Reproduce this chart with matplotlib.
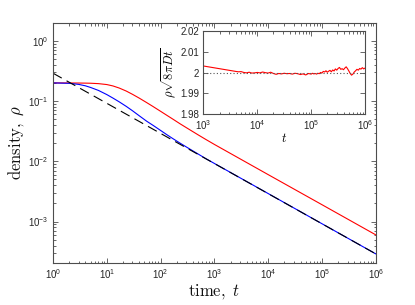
import numpy as np
import matplotlib
matplotlib.use("Agg")
import matplotlib.pyplot as plt
from matplotlib.ticker import LogLocator, FixedLocator, FixedFormatter, NullFormatter

# ---------------- data ----------------
t_main = [1, 2, 3, 4, 5, 7, 10, 13, 17, 23, 30, 40, 55, 72, 100, 130, 170,
          230, 300, 500, 700, 1e3, 1e4, 1e5, 1e6]
rho_red = [0.200, 0.1996, 0.199, 0.1983, 0.1975, 0.1945, 0.1878, 0.1781,
           0.1644, 0.1464, 0.1293, 0.1119, 0.0943, 0.0813, 0.0675, 0.0581,
           0.0499, 0.0419, 0.0362, 0.0274, 0.0229, 0.01903, 0.0060, 0.0019,
           0.0006]
rho_blue = [0.200, 0.197, 0.189, 0.179, 0.168, 0.150, 0.128, 0.112, 0.097,
            0.0815, 0.069, 0.0570, 0.0463, 0.0396, 0.0325, 0.0277, 0.0237,
            0.0200, 0.0173, 0.01317, 0.0110, 0.00920, 0.00291, 0.000918,
            0.00029]
t_theory = [1, 1e6]
rho_theory = [0.29, 0.00029]

inset_log10_t = [3.0, 3.6, 3.65, 3.7, 3.75, 3.8, 3.85, 3.9, 3.95, 4.0, 4.05,
                 4.1, 4.15, 4.2, 4.25, 4.3, 4.35, 4.4, 4.45, 4.5, 4.55, 4.6,
                 4.65, 4.7, 4.75, 4.8, 4.85, 4.9, 4.95, 5.0, 5.025, 5.05,
                 5.075, 5.1, 5.125, 5.15, 5.175, 5.2, 5.225, 5.25, 5.275, 5.3,
                 5.325, 5.35, 5.375, 5.4, 5.425, 5.45, 5.475, 5.5, 5.525,
                 5.55, 5.575, 5.6, 5.625, 5.65, 5.675, 5.7, 5.725, 5.75,
                 5.775, 5.8, 5.825, 5.85, 5.875, 5.9, 5.925, 5.95, 5.975, 6.0]
inset_ratio = [2.0032, 2.0006, 2.0004, 2.0005, 2.0001, 1.9999, 2.0002, 1.9998,
               1.9999, 2.0001, 1.9999, 2.0003, 2.0000, 1.9998, 2.0002, 1.9996,
               1.9992, 1.9996, 1.9994, 1.9997, 1.9995, 1.9996, 1.9993, 1.9997,
               1.9995, 1.9991, 1.9994, 1.9989, 1.9996, 1.9993, 1.9997, 1.9994,
               1.9996, 1.9993, 1.9997, 1.9995, 2.0001, 1.9998, 2.0006, 2.0003,
               2.0009, 2.0002, 2.0007, 2.0011, 2.0004, 2.0013, 2.0008, 2.0018,
               2.0012, 2.0020, 2.0025, 2.0016, 2.0019, 2.0014, 2.0022, 2.0028,
               2.0019, 2.0008, 1.9996, 1.9988, 1.9993, 2.0003, 2.0009, 2.0016,
               2.0012, 2.0020, 2.0017, 2.0024, 2.0018, 2.0022]
inset_ref = 2.0

main_xticks = [1e0, 1e1, 1e2, 1e3, 1e4, 1e5, 1e6]
main_xticklabels = [r"$10^{0}$", r"$10^{1}$", r"$10^{2}$", r"$10^{3}$",
                    r"$10^{4}$", r"$10^{5}$", r"$10^{6}$"]
main_yticks = [1e-3, 1e-2, 1e-1, 1e0]
main_yticklabels = [r"$10^{-3}$", r"$10^{-2}$", r"$10^{-1}$", r"$10^{0}$"]
inset_xticks = [1e3, 1e4, 1e5, 1e6]
inset_xticklabels = [r"$10^{3}$", r"$10^{4}$", r"$10^{5}$", r"$10^{6}$"]
inset_yticks = [1.98, 1.99, 2.0, 2.01, 2.02]
inset_yticklabels = ["1.98", "1.99", "2", "2.01", "2.02"]

# ---------------- style ----------------
plt.rcParams["font.family"] = ["Liberation Sans", "DejaVu Sans"]
plt.rcParams["mathtext.fontset"] = "custom"
plt.rcParams["mathtext.rm"] = "Liberation Sans"
plt.rcParams["mathtext.it"] = "Liberation Sans:italic"
plt.rcParams["mathtext.bf"] = "Liberation Sans:bold"
axc = "#262626"
grey = "#4d4d4d"

fig = plt.figure(figsize=(4.15, 3.05), dpi=100)
ax = fig.add_axes([0.1277, 0.1377, 0.778, 0.788])

ax.plot(t_main, rho_red, color="red", lw=0.8)
ax.plot(t_main, rho_blue, color="blue", lw=0.8)
ax.plot(t_theory, rho_theory, color="black", lw=0.8, linestyle=(0, (9, 5)))

ax.set_xscale("log")
ax.set_yscale("log")
ax.set_xlim(1, 1e6)
ax.set_ylim(2.05e-4, 2.0)


def style_axes(a, fs):
    for s in a.spines.values():
        s.set_color(grey)
        s.set_linewidth(0.8)
    a.tick_params(which="both", direction="in", top=True, right=True,
                  colors=grey, labelcolor=axc, labelsize=fs, width=0.6)
    a.tick_params(which="major", length=3.5, pad=3)
    a.tick_params(which="minor", length=1.8)


style_axes(ax, 7)
ax.xaxis.set_major_locator(FixedLocator(main_xticks))
ax.xaxis.set_major_formatter(FixedFormatter(main_xticklabels))
ax.yaxis.set_major_locator(FixedLocator(main_yticks))
ax.yaxis.set_major_formatter(FixedFormatter(main_yticklabels))
ax.xaxis.set_minor_locator(LogLocator(base=10, subs=np.arange(2, 10), numticks=20))
ax.yaxis.set_minor_locator(LogLocator(base=10, subs=np.arange(2, 10), numticks=20))
ax.xaxis.set_minor_formatter(NullFormatter())
ax.yaxis.set_minor_formatter(NullFormatter())

ax.set_xlabel(r"$\mathrm{time},\ t$", fontsize=12, math_fontfamily="cm",
              color="#111111", labelpad=1)
ax.set_ylabel(r"$\mathrm{density},\ \rho$", fontsize=12, math_fontfamily="cm",
              color="#111111", labelpad=2)

# ---------------- inset ----------------
ins = fig.add_axes([0.490, 0.6252, 0.3896, 0.2732])
ins.plot(10 ** np.array(inset_log10_t), inset_ratio, color="red", lw=0.8)
ins.axhline(inset_ref, color="#555555", lw=0.8, linestyle=(0, (1, 2)))
ins.set_xscale("log")
ins.set_xlim(1e3, 1e6)
ins.set_ylim(1.98, 2.02)
style_axes(ins, 7)
ins.xaxis.set_major_locator(FixedLocator(inset_xticks))
ins.xaxis.set_major_formatter(FixedFormatter(inset_xticklabels))
ins.yaxis.set_major_locator(FixedLocator(inset_yticks))
ins.yaxis.set_major_formatter(FixedFormatter(inset_yticklabels))
ins.xaxis.set_minor_locator(LogLocator(base=10, subs=np.arange(2, 10), numticks=20))
ins.xaxis.set_minor_formatter(NullFormatter())
ins.set_xlabel(r"$t$", fontsize=9, math_fontfamily="cm", labelpad=0)
ins.set_ylabel(r"$\rho\sqrt{8\pi D t}$", fontsize=9, math_fontfamily="cm",
               labelpad=1)

fig.savefig("out.png", dpi=100)
